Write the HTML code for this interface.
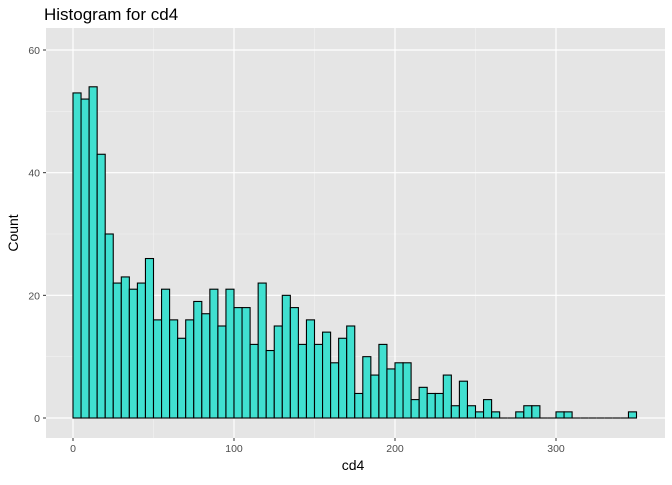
<!DOCTYPE html>
<html><head><meta charset="utf-8"><style>
body{margin:0;background:#fff;font-family:"Liberation Sans",Arial,sans-serif}
</style></head><body>
<svg width="672" height="480" xmlns="http://www.w3.org/2000/svg">
<text x="44" y="20" font-size="17" fill="#000">Histogram for cd4</text>
<rect x="46" y="28" width="619" height="410" fill="#e5e5e5"/>
<g id="grid"></g>
<g id="bars"></g>
<g id="axes"></g>
<text x="353" y="470" font-size="14" text-anchor="middle">cd4</text>
<text transform="translate(18,233) rotate(-90)" font-size="14" text-anchor="middle">Count</text>
</svg>
<script>
const binStart = 0;
const binWidth = 5;
const counts = [53,52,54,43,30,22,23,21,22,26,16,21,16,13,16,19,17,21,15,21,18,18,12,22,
11,15,20,18,12,16,12,14,9,13,15,4,10,7,12,8,9,9,3,5,4,4,7,
2,6,2,1,3,1,0,0,1,2,2,0,0,1,1,0,0,0,0,0,0,0,1];
const xTicks = [0,100,200,300];
const yTicks = [0,20,40,60];
const NS="http://www.w3.org/2000/svg";
const X = v => 73 + v*(556-73)/300;
const Y = v => 418 - v*(418-50)/60;
function mk(tag, attrs, parent){const e=document.createElementNS(NS,tag);for(const k in attrs)e.setAttribute(k,attrs[k]);parent.appendChild(e);return e;}
const grid=document.getElementById('grid'), bars=document.getElementById('bars'), axes=document.getElementById('axes');
for(let i=0;i<xTicks.length-1;i++){const m=(xTicks[i]+xTicks[i+1])/2;const l=mk('line',{x1:X(m),x2:X(m),y1:28,y2:438,stroke:'#f2f2f2','stroke-width':0.6},grid);

}
for(let i=0;i<yTicks.length-1;i++){const m=(yTicks[i]+yTicks[i+1])/2;const l=mk('line',{x1:46,x2:665,y1:Y(m),y2:Y(m),stroke:'#f2f2f2','stroke-width':0.6},grid);

}
xTicks.forEach(t=>{const l=mk('line',{x1:X(t),x2:X(t),y1:28,y2:438,stroke:'#fff','stroke-width':1.2},grid);


mk('line',{x1:X(t),x2:X(t),y1:438,y2:441,stroke:'#333'},axes);
const tx=mk('text',{x:X(t),y:452,'font-size':10.5,fill:'#4d4d4d','text-anchor':'middle'},axes);tx.textContent=t;

});
yTicks.forEach(t=>{const l=mk('line',{x1:46,x2:665,y1:Y(t),y2:Y(t),stroke:'#fff','stroke-width':1.2},grid);


mk('line',{x1:43,x2:46,y1:Y(t),y2:Y(t),stroke:'#333'},axes);
const tx=mk('text',{x:40,y:Y(t)+4,'font-size':10.5,fill:'#4d4d4d','text-anchor':'end'},axes);tx.textContent=t;

});
counts.forEach((c,i)=>{const x0=X(binStart+i*binWidth),x1=X(binStart+(i+1)*binWidth);
if(c===0){const z=mk('line',{x1:x0,x2:x1,y1:Y(0),y2:Y(0),stroke:'#000','stroke-width':1.1},bars);

return;}
const r=mk('rect',{x:x0,y:Y(c),width:x1-x0,height:Y(0)-Y(c),fill:'#40e0d0',stroke:'#000','stroke-width':1.1},bars);

});
</script>
</body></html>
